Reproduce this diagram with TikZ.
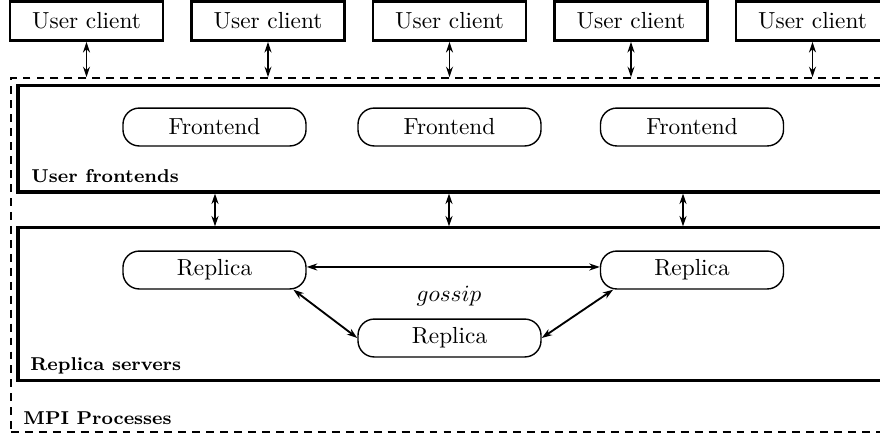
\documentclass[tikz,border=0pt]{standalone}
\usetikzlibrary{arrows.meta}
\begin{document}
\begin{tikzpicture}[x=0.43pt,y=-0.43pt,
  client/.style={draw,line width=1.2pt,minimum width=65.8pt,minimum height=16.8pt,inner sep=0pt,font=\normalsize},
  proc/.style={draw,line width=0.6pt,rounded corners=7pt,minimum width=78.7pt,minimum height=16.3pt,inner sep=0pt},
  group/.style={draw,line width=1.3pt,inner sep=0pt},
  outer/.style={draw,line width=0.8pt,dash pattern=on 3.4pt off 2.6pt,inner sep=0pt},
  grouplabel/.style={anchor=base west,inner sep=0pt,font=\footnotesize\bfseries},
  link/.style={line width=0.8pt,{Stealth[length=4.5pt,width=3pt]}-{Stealth[length=4.5pt,width=3pt]}}]
\useasboundingbox (0,0) rectangle (880,436);
\clip (0,0) rectangle (880,436);
% containers
\node[outer,minimum width=408.1pt,minimum height=152.2pt] (mpi) at (485.5,255) {};
\node[group,minimum width=402.9pt,minimum height=46pt] (fe) at (486.5,138.5) {};
\node[group,minimum width=402.9pt,minimum height=65.4pt] (rs) at (486.5,304) {};
\node[grouplabel] (lfe) at (31,182) {User frontends};
\node[grouplabel] (lrs) at (30,370) {Replica servers};
\node[grouplabel] (lmpi) at (23,424) {MPI Processes};
% clients
\node[client] (c1) at (86.5,21) {User client};
\node[client] (c2) at (268,21) {User client};
\node[client] (c3) at (449.5,21) {User client};
\node[client] (c4) at (631,21) {User client};
\node[client] (c5) at (812.5,21) {User client};
% frontends
\node[proc] (f1) at (214.5,127) {Frontend};
\node[proc] (f2) at (449.5,127) {Frontend};
\node[proc] (f3) at (692,127) {Frontend};
% replicas
\node[proc] (r1) at (214.5,270) {Replica};
\node[proc] (r2) at (692,270) {Replica};
\node[proc] (r3) at (449.5,338) {Replica};
\node[anchor=base,inner sep=0pt] (gos) at (449,301) {$gossip$};
% connectors
\foreach \c in {c1,c2,c3,c4,c5}
  \draw[link] (\c.south) -- (\c.south |- mpi.north);
\coordinate (a1) at (215,0);
\coordinate (a2) at (449,0);
\coordinate (a3) at (683,0);
\foreach \a in {a1,a2,a3}
  \draw[link] (fe.south -| \a) -- (rs.north -| \a);
\draw[link] ([yshift=1.3pt]r1.east) -- ([yshift=1.3pt]r2.west);
\draw[link] (r1.-14.5) -- (r3.west);
\draw[link] (r3.east) -- (r2.-166);
\end{tikzpicture}
\end{document}
